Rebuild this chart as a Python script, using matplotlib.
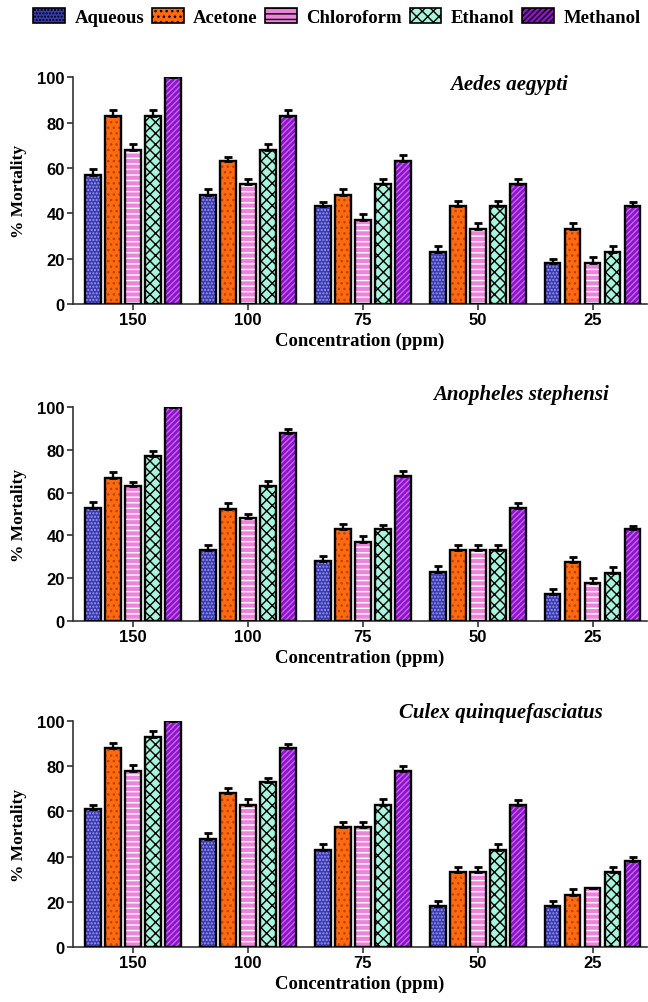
import numpy as np
import matplotlib.pyplot as plt
from matplotlib.patches import Patch

concs = ['150', '100', '75', '50', '25']
solvents = ['Aqueous', 'Acetone', 'Chloroform', 'Ethanol', 'Methanol']
species = ['Aedes aegypti', 'Anopheles stephensi', 'Culex quinquefasciatus']

# % mortality, one row per solvent, columns follow concs
aedes = [
    [57, 48, 43, 23, 18],
    [83, 63, 48, 43, 33],
    [68, 53, 37, 33, 18],
    [83, 68, 53, 43, 23],
    [100, 83, 63, 53, 43],
]
anopheles = [
    [53, 33, 28, 23, 12.5],
    [67, 52.5, 43, 33, 27.5],
    [63, 48, 37, 33, 17.5],
    [77, 63, 43, 33, 22.5],
    [100, 88, 68, 53, 43],
]
culex = [
    [61, 48, 43, 18, 18],
    [88, 68, 53, 33, 23],
    [78, 63, 53, 33, 26],
    [93, 73, 63, 43, 33],
    [100, 88, 78, 63, 38],
]
# standard error, same layout
aedes_err = [
    [2.5, 2.5, 2, 2.5, 2],
    [2.5, 2, 2.5, 2.5, 2.5],
    [2.5, 2, 2.5, 2.5, 2.5],
    [2.5, 2.5, 2, 2.5, 2.5],
    [0, 2.5, 2.5, 2, 2],
]
anopheles_err = [
    [2.5, 2.5, 2.5, 2.5, 2.5],
    [2.5, 2.5, 2.5, 2.5, 2.5],
    [2, 2, 2.5, 2.5, 2.5],
    [2.5, 2.5, 2, 2.5, 2.5],
    [0, 2, 2, 2, 1.5],
]
culex_err = [
    [2, 2.5, 2.5, 2.5, 2.5],
    [2.5, 2.5, 2.5, 2.5, 2.5],
    [2.5, 2.5, 2.5, 2.5, 0],
    [2.5, 2, 2.5, 2.5, 2.5],
    [0, 2, 2, 2, 2],
]

faces = ['#3b3bb0', '#ff6a10', '#ec84dc', '#a8f4dc', '#8c14c8']
hatch_cols = ['#9a9af0', '#b84400', '#ffffff', '#000000', '#c864f0']
hatches = ['.....', '...', '---', 'xxx', '//////']

plt.rcParams['hatch.linewidth'] = 1.0

fig = plt.figure(figsize=(6.48, 10.03), dpi=100)
boxes = [(0.113, 0.696, 0.885, 0.226),
         (0.113, 0.380, 0.885, 0.213),
         (0.113, 0.055, 0.885, 0.225)]
data = [aedes, anopheles, culex]
errs = [aedes_err, anopheles_err, culex_err]
title_pos = [(0.76, 0.97), (0.78, 1.06), (0.745, 1.04)]

x = np.arange(len(concs))
step = 0.174
width = 0.135
serif = ['Liberation Serif', 'DejaVu Serif']
sans = ['Liberation Sans', 'DejaVu Sans']

for k, box in enumerate(boxes):
    ax = fig.add_axes(box)
    vals = data[k]
    ee = errs[k]
    for i in range(len(solvents)):
        pos = x + (i - 2) * step
        ax.bar(pos, vals[i], width, color=faces[i], edgecolor=hatch_cols[i],
               hatch=hatches[i], linewidth=0, zorder=2)
        ax.bar(pos, vals[i], width, fill=False, edgecolor='black',
               linewidth=1.7, zorder=3)
        ax.errorbar(pos, vals[i], yerr=[np.zeros(len(concs)), ee[i]],
                    fmt='none', ecolor='black', elinewidth=1.7,
                    capsize=3.2, capthick=2, zorder=4)
    ax.set_xlim(-0.52, 4.47)
    ax.set_ylim(0, 100)
    ax.set_yticks([0, 20, 40, 60, 80, 100])
    ax.set_xticks(x)
    ax.set_xticklabels(concs)
    for s in ['top', 'right']:
        ax.spines[s].set_visible(False)
    for s in ['left', 'bottom']:
        ax.spines[s].set_linewidth(1.2)
        ax.spines[s].set_color('#333333')
    ax.tick_params(axis='both', length=4, width=1.2, color='#333333',
                   labelsize=12, pad=2)
    for t in ax.get_xticklabels() + ax.get_yticklabels():
        t.set_fontfamily(sans)
        t.set_fontweight('bold')
    ax.set_xlabel('Concentration (ppm)', fontfamily=serif, fontweight='bold',
                  fontsize=13.5, labelpad=3)
    ax.set_ylabel('% Mortality', fontfamily=serif, fontweight='bold',
                  fontsize=12.5)
    ax.yaxis.set_label_coords(-0.08, 0.5)
    ax.text(title_pos[k][0], title_pos[k][1], species[k],
            transform=ax.transAxes, ha='center', va='center',
            fontfamily=serif, fontweight='bold', fontstyle='italic',
            fontsize=15)

handles = [Patch(facecolor=faces[i], edgecolor='black', hatch=hatches[i],
                 linewidth=1.2) for i in range(len(solvents))]
leg = fig.legend(handles, solvents, loc='center', bbox_to_anchor=(0.52, 0.982),
                 ncol=5, frameon=False, handlelength=1.7, handleheight=0.9,
                 handletextpad=0.5, columnspacing=0.4,
                 prop={'family': serif, 'weight': 'bold', 'size': 13.5})

fig.savefig('out.png', dpi=100)
